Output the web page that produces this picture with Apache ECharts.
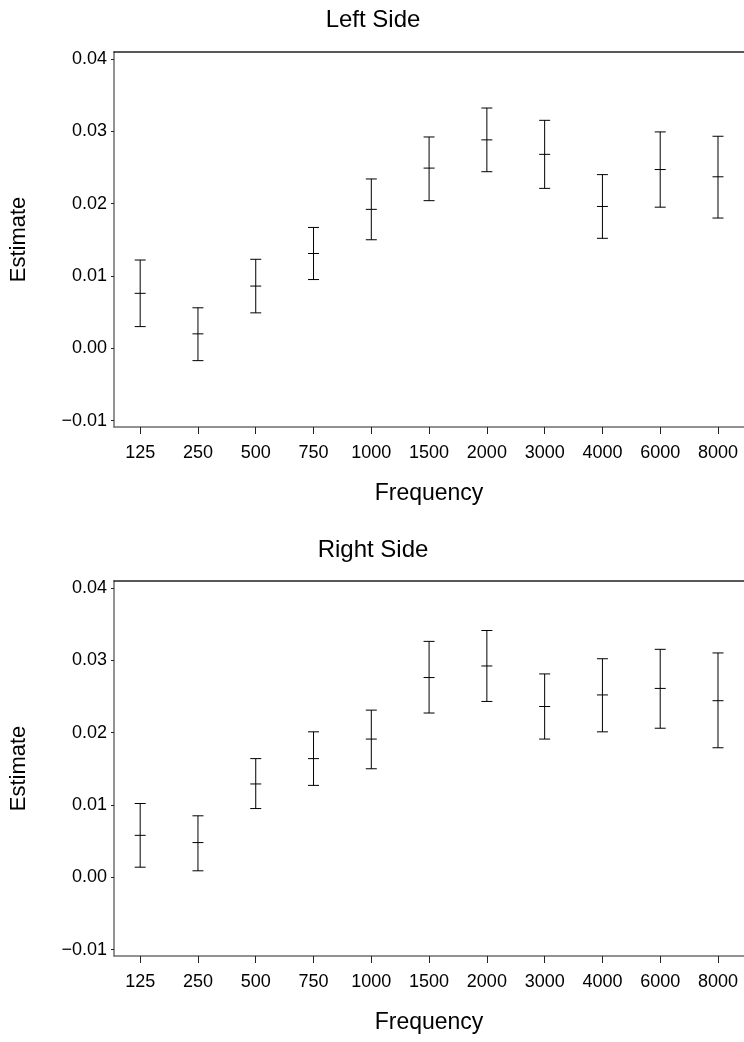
<!DOCTYPE html>
<html>
<head>
<meta charset="utf-8">
<script src="https://cdn.jsdelivr.net/npm/echarts@6/dist/echarts.min.js"></script>
<style>
  html, body { margin: 0; padding: 0; background: #fff; }
  #main { width: 744px; height: 1042px; }
</style>
</head>
<body>
<div id="main"></div>
<script>
// frequency categories on the x axis
var freqs = ['125', '250', '500', '750', '1000', '1500', '2000', '3000', '4000', '6000', '8000'];
var yTicks = [-0.01, 0, 0.01, 0.02, 0.03, 0.04];

// left side: estimate and confidence limits
var leftEst  = [0.0076, 0.0020, 0.0086, 0.0131, 0.0192, 0.0249, 0.0288, 0.0268, 0.0196, 0.0247, 0.0237];
var leftLow  = [0.0030, -0.0017, 0.0049, 0.0095, 0.0150, 0.0204, 0.0244, 0.0221, 0.0152, 0.0195, 0.0180];
var leftHigh = [0.0122, 0.0056, 0.0123, 0.0167, 0.0234, 0.0292, 0.0332, 0.0315, 0.0240, 0.0299, 0.0293];

// right side
var rightEst  = [0.0058, 0.0048, 0.0129, 0.0164, 0.0191, 0.0276, 0.0292, 0.0236, 0.0252, 0.0261, 0.0244];
var rightLow  = [0.0014, 0.0009, 0.0095, 0.0127, 0.0150, 0.0227, 0.0243, 0.0191, 0.0201, 0.0206, 0.0179];
var rightHigh = [0.0102, 0.0085, 0.0164, 0.0201, 0.0231, 0.0326, 0.0341, 0.0281, 0.0302, 0.0315, 0.0310];

var font = 'Liberation Sans, Arial, Helvetica, sans-serif';

function build(low, est, high) {
    var res = [];
    for (var i = 0; i < freqs.length; i++) {
        res.push([i, low[i], est[i], high[i]]);
    }
    return res;
}

function renderBar(params, api) {
    var x = api.value(0);
    var pLow = api.coord([x, api.value(1)]);
    var pEst = api.coord([x, api.value(2)]);
    var pHigh = api.coord([x, api.value(3)]);
    var w = 5.5;
    var st = { stroke: '#000', lineWidth: 1 };
    return {
        type: 'group',
        children: [
            { type: 'line', shape: { x1: pLow[0], y1: pLow[1], x2: pHigh[0], y2: pHigh[1] }, style: st },
            { type: 'line', shape: { x1: pLow[0] - w, y1: pLow[1], x2: pLow[0] + w, y2: pLow[1] }, style: st },
            { type: 'line', shape: { x1: pEst[0] - w, y1: pEst[1], x2: pEst[0] + w, y2: pEst[1] }, style: st },
            { type: 'line', shape: { x1: pHigh[0] - w, y1: pHigh[1], x2: pHigh[0] + w, y2: pHigh[1] }, style: st }
        ]
    };
}

function xAxis(idx) {
    return {
        type: 'value', gridIndex: idx,
        min: -0.453, max: 10.45,
        name: 'Frequency', nameLocation: 'middle', nameGap: 55,
        nameTextStyle: { fontSize: 23, color: '#000', fontFamily: font },
        splitLine: { show: false },
        axisLine: { onZero: false, lineStyle: { color: '#6e6e6e', width: 1.5 } },
        axisTick: { length: 7, customValues: freqs.map(function (f, i) { return i; }), lineStyle: { color: '#222' } },
        axisLabel: {
            customValues: freqs.map(function (f, i) { return i; }),
            margin: 17, fontSize: 18, color: '#000', fontFamily: font,
            formatter: function (v) { return freqs[Math.round(v)]; }
        }
    };
}

// frame line along the top of each panel
function topAxis(idx) {
    return {
        type: 'value', gridIndex: idx, position: 'top',
        min: -0.453, max: 10.45,
        axisLine: { show: true, onZero: false, lineStyle: { color: '#222', width: 1.5 } },
        axisTick: { show: false }, axisLabel: { show: false }, splitLine: { show: false }
    };
}

function yAxis(idx) {
    return {
        type: 'value', gridIndex: idx,
        min: -0.01087, max: 0.04094,
        name: 'Estimate', nameLocation: 'middle', nameGap: 84,
        nameTextStyle: { fontSize: 22, color: '#000', fontFamily: font },
        splitLine: { show: false },
        axisLine: { show: true, onZero: false, lineStyle: { color: '#6e6e6e', width: 1.5 } },
        axisTick: { show: true, length: 3, customValues: yTicks, lineStyle: { color: '#222' } },
        axisLabel: {
            customValues: yTicks,
            margin: 7, fontSize: 18, color: '#000', fontFamily: font,
            formatter: function (v) {
                return (v < 0 ? '\u2212' : '') + Math.abs(v).toFixed(2);
            }
        }
    };
}

var myChart = echarts.init(document.getElementById('main'));
var option = {
    backgroundColor: '#fff',
    animation: false,
    title: [
        { text: 'Left Side', left: 368, top: 3, textAlign: 'center',
          textStyle: { fontSize: 24, fontWeight: 'normal', color: '#000', fontFamily: font } },
        { text: 'Right Side', left: 368, top: 533, textAlign: 'center',
          textStyle: { fontSize: 24, fontWeight: 'normal', color: '#000', fontFamily: font } }
    ],
    grid: [
        { left: 112, top: 52, right: 0, height: 375 },
        { left: 112, top: 581, right: 0, height: 375 }
    ],
    xAxis: [xAxis(0), xAxis(1), topAxis(0), topAxis(1)],
    yAxis: [yAxis(0), yAxis(1)],
    series: [
        { type: 'custom', xAxisIndex: 0, yAxisIndex: 0, renderItem: renderBar,
          encode: { x: 0, y: [1, 2, 3] }, data: build(leftLow, leftEst, leftHigh) },
        { type: 'custom', xAxisIndex: 1, yAxisIndex: 1, renderItem: renderBar,
          encode: { x: 0, y: [1, 2, 3] }, data: build(rightLow, rightEst, rightHigh) }
    ]
};
myChart.setOption(option);
window.addEventListener('resize', function () {
    myChart.resize();
});
</script>
</body>
</html>
